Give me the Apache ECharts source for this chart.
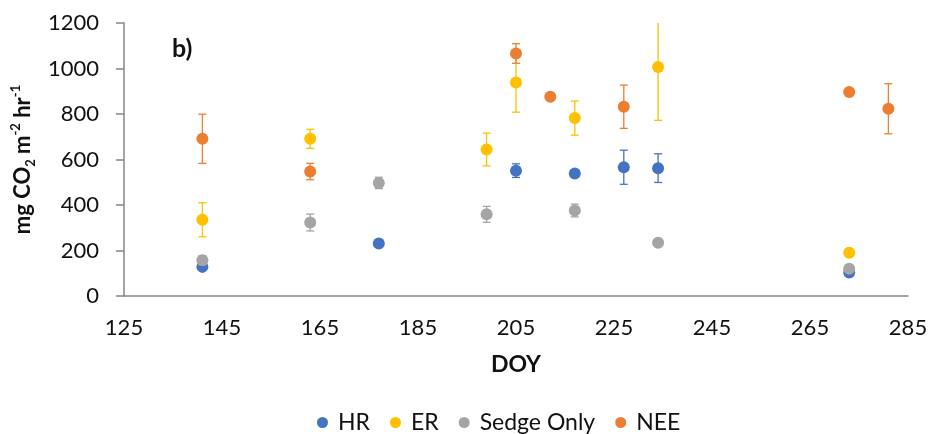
<!DOCTYPE html>
<html>
<head>
<meta charset="utf-8">
<script src="https://cdn.jsdelivr.net/npm/echarts@6/dist/echarts.min.js"></script>
<style>
  html, body { margin: 0; padding: 0; background: #fff; }
  #chart { width: 931px; height: 434px; }
</style>
</head>
<body>
<div id="chart"></div>
<script>
// Day of year for each sampling date, per flux component
const hrDoy = [141, 177, 205, 217, 227, 234, 273];
const hrMean = [128, 231, 551, 538, 566, 562, 103];
const hrErr = [10, 6, 30, 10, 75, 63, 6];

const erDoy = [141, 163, 199, 205, 217, 234, 273];
const erMean = [335, 691, 644, 938, 782, 1007, 190];
const erErr = [75, 42, 72, 130, 75, 235, 6];

const sedgeDoy = [141, 163, 177, 199, 217, 234, 273];
const sedgeMean = [157, 323, 497, 359, 376, 234, 120];
const sedgeErr = [20, 37, 25, 35, 28, 8, 6];

const neeDoy = [141, 163, 205, 212, 227, 273, 281];
const neeMean = [691, 547, 1066, 876, 832, 897, 823];
const neeErr = [108, 36, 43, 0, 95, 6, 110];

const xTicks = { min: 125, max: 285, step: 20 };
const yTicks = { min: 0, max: 1200, step: 200 };

const FONT = 'Lato, "Liberation Sans", sans-serif';
const TEXT = '#111';
const AXIS = '#868686';

const groups = [
  { name: 'HR', color: '#4472C4', doy: hrDoy, mean: hrMean, err: hrErr },
  { name: 'ER', color: '#FFC000', doy: erDoy, mean: erMean, err: erErr },
  { name: 'Sedge Only', color: '#A5A5A5', doy: sedgeDoy, mean: sedgeMean, err: sedgeErr },
  { name: 'NEE', color: '#ED7D31', doy: neeDoy, mean: neeMean, err: neeErr }
];

// Vertical error bar with short caps, drawn in data space
function errorBarRenderer(color) {
  return function (params, api) {
    const x = api.value(0);
    const lo = api.coord([x, api.value(1)]);
    const hi = api.coord([x, api.value(2)]);
    const cap = 4;
    if (Math.abs(lo[1] - hi[1]) < 1) return { type: 'group', children: [] };
    const style = { stroke: color, lineWidth: 1.3 };
    return {
      type: 'group',
      children: [
        { type: 'line', shape: { x1: lo[0], y1: lo[1], x2: hi[0], y2: hi[1] }, style },
        { type: 'line', shape: { x1: lo[0] - cap, y1: lo[1], x2: lo[0] + cap, y2: lo[1] }, style },
        { type: 'line', shape: { x1: hi[0] - cap, y1: hi[1], x2: hi[0] + cap, y2: hi[1] }, style }
      ]
    };
  };
}

const series = [];
groups.forEach((g, i) => {
  series.push({
    name: g.name + ' err',
    type: 'custom',
    renderItem: errorBarRenderer(g.color),
    data: g.doy.map((d, k) => [d, g.mean[k] - g.err[k], g.mean[k] + g.err[k]]),
    z: 2 + i * 2,
    silent: true,
    clip: true
  });
  series.push({
    name: g.name,
    type: 'scatter',
    symbol: 'circle',
    symbolSize: 12,
    itemStyle: { color: g.color, opacity: 1 },
    data: g.doy.map((d, k) => [d, g.mean[k]]),
    z: 3 + i * 2
  });
});

const chart = echarts.init(document.getElementById('chart'), null, { renderer: 'canvas' });
chart.setOption({
  animation: false,
  backgroundColor: '#fff',
  grid: { left: 124, right: 23, top: 23, bottom: 138, containLabel: false },
  xAxis: {
    type: 'value',
    min: xTicks.min, max: xTicks.max, interval: xTicks.step,
    name: 'DOY',
    nameLocation: 'middle',
    nameGap: 57,
    nameTextStyle: { fontFamily: FONT, fontSize: 23, fontWeight: 'bold', color: TEXT },
    axisLine: { show: true, lineStyle: { color: AXIS, width: 1.5 } },
    axisTick: { show: false },
    splitLine: { show: false },
    axisLabel: { fontFamily: FONT, fontSize: 22, color: TEXT, margin: 21 }
  },
  yAxis: {
    type: 'value',
    min: yTicks.min, max: yTicks.max, interval: yTicks.step,
    name: '{b|mg CO}{sub|2}{b| m}{sup|-2}{b| hr}{sup|-1}',
    nameLocation: 'middle',
    nameGap: 84,
    nameTextStyle: {
      fontFamily: FONT, color: TEXT,
      rich: {
        b: { fontFamily: FONT, fontSize: 22, fontWeight: 'bold', color: TEXT, lineHeight: 28 },
        sub: { fontFamily: FONT, fontSize: 13, fontWeight: 'bold', color: TEXT, lineHeight: 14, verticalAlign: 'bottom' },
        sup: { fontFamily: FONT, fontSize: 13, fontWeight: 'bold', color: TEXT, lineHeight: 14, verticalAlign: 'top' }
      }
    },
    axisLine: { show: true, lineStyle: { color: AXIS, width: 1.5 } },
    axisTick: { show: true, inside: false, length: 8, lineStyle: { color: AXIS, width: 1.5 } },
    splitLine: { show: false },
    axisLabel: { fontFamily: FONT, fontSize: 22, color: TEXT, margin: 25, formatter: v => String(v) }
  },
  legend: {
    data: groups.map(g => g.name),
    left: 312,
    top: 406,
    icon: 'circle',
    itemWidth: 21,
    itemHeight: 11,
    itemGap: 20,
    textStyle: { fontFamily: FONT, fontSize: 23, color: TEXT }
  },
  graphic: [{
    type: 'text',
    left: 172,
    top: 36,
    style: { text: 'b)', font: 'bold 25px ' + FONT, fill: TEXT }
  }],
  series
});
</script>
</body>
</html>
